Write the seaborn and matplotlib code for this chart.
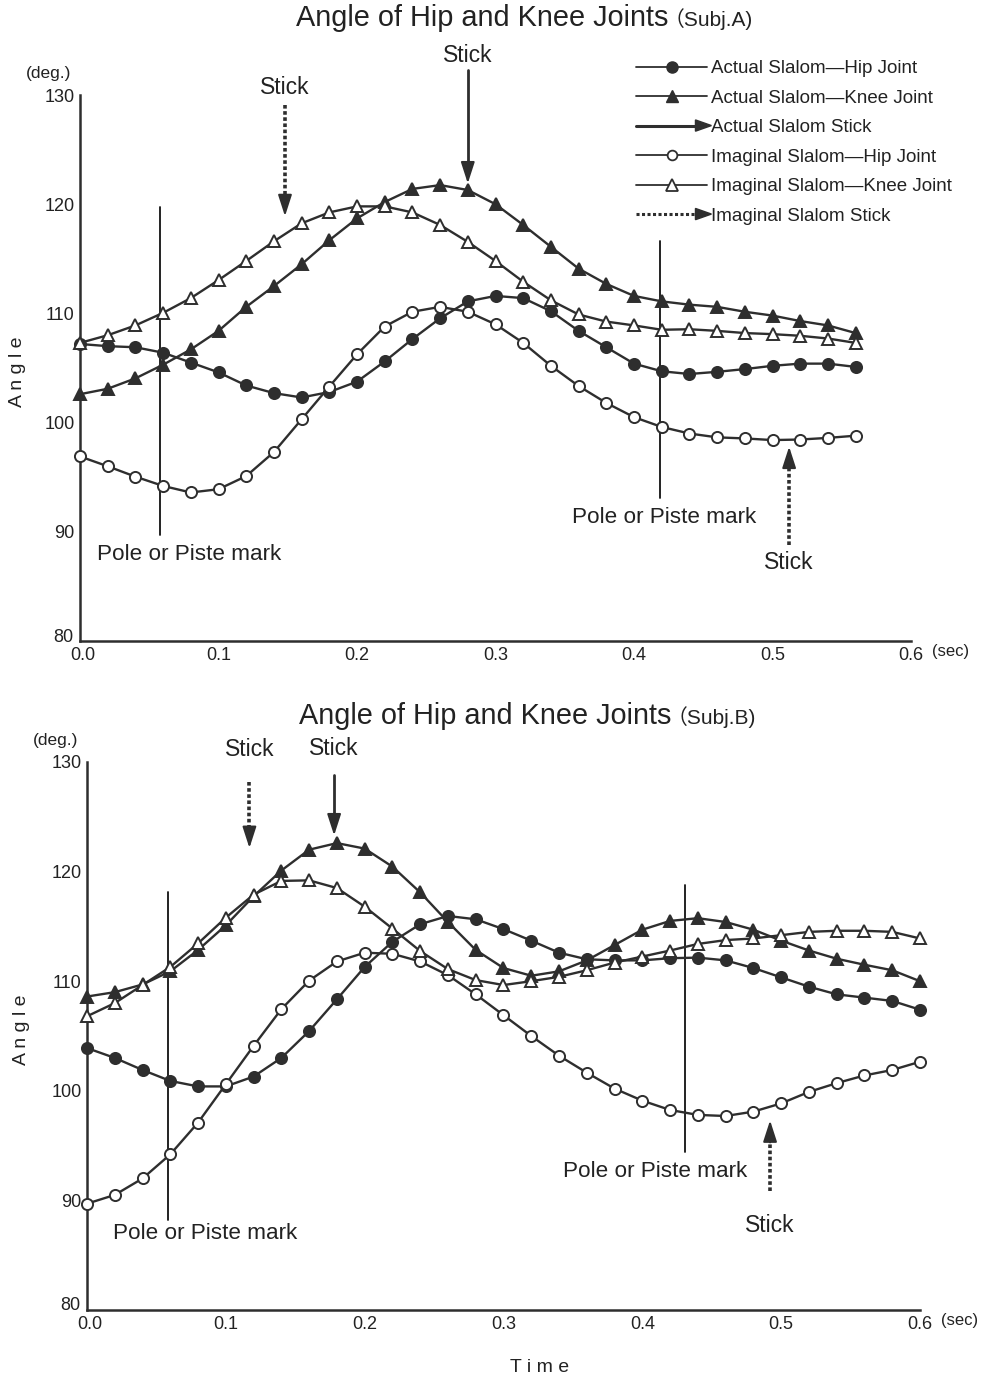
import numpy as np
import pandas as pd
import seaborn as sns
import matplotlib
matplotlib.use("Agg")
import matplotlib.pyplot as plt
import matplotlib.transforms as mtransforms
from matplotlib.lines import Line2D
from matplotlib.patches import Polygon
from matplotlib.legend_handler import HandlerBase

# ---------------- data ----------------
time_a = [round(0.02 * i, 2) for i in range(29)]   # 0.00 .. 0.56
time_b = [round(0.02 * i, 2) for i in range(31)]   # 0.00 .. 0.60

a_actual_hip = [107.2, 107.0, 106.9, 106.4, 105.5, 104.6, 103.4, 102.7, 102.3, 102.8,
                103.75, 105.6, 107.65, 109.55, 111.1, 111.6, 111.4, 110.2, 108.4, 106.9,
                105.4, 104.7, 104.45, 104.65, 104.9, 105.2, 105.4, 105.4, 105.1]
a_actual_knee = [102.6, 103.1, 104.05, 105.3, 106.7, 108.4, 110.6, 112.5, 114.5, 116.7,
                 118.7, 120.2, 121.4, 121.75, 121.3, 120.0, 118.1, 116.1, 114.1, 112.7,
                 111.6, 111.1, 110.8, 110.6, 110.15, 109.8, 109.3, 108.9, 108.2]
a_imag_hip = [96.9, 96.0, 95.05, 94.2, 93.6, 93.9, 95.1, 97.3, 100.3, 103.3,
              106.25, 108.8, 110.15, 110.6, 110.15, 109.0, 107.3, 105.2, 103.35, 101.8,
              100.5, 99.6, 99.0, 98.65, 98.55, 98.4, 98.45, 98.6, 98.8]
a_imag_knee = [107.3, 108.0, 108.9, 110.05, 111.4, 113.05, 114.8, 116.6, 118.25, 119.25,
               119.8, 119.8, 119.25, 118.1, 116.55, 114.8, 112.9, 111.2, 109.9, 109.25,
               108.9, 108.5, 108.55, 108.4, 108.2, 108.1, 107.95, 107.7, 107.3]

b_actual_hip = [103.9, 103.0, 101.9, 100.9, 100.4, 100.4, 101.3, 103.0, 105.45, 108.35,
                111.3, 113.6, 115.2, 115.95, 115.65, 114.75, 113.7, 112.6, 112.0, 111.9,
                111.9, 112.1, 112.15, 111.9, 111.2, 110.35, 109.5, 108.8, 108.5, 108.2, 107.4]
b_actual_knee = [108.6, 109.0, 109.7, 110.9, 112.85, 115.1, 117.75, 120.1, 122.0, 122.6,
                 122.1, 120.45, 118.1, 115.4, 112.85, 111.2, 110.5, 110.9, 111.9, 113.3,
                 114.7, 115.5, 115.75, 115.4, 114.7, 113.7, 112.8, 112.05, 111.5, 111.0, 110.0]
b_imag_hip = [89.7, 90.5, 92.0, 94.2, 97.1, 100.6, 104.1, 107.45, 110.05, 111.8,
              112.6, 112.5, 111.8, 110.55, 108.8, 106.9, 105.0, 103.2, 101.65, 100.2,
              99.1, 98.25, 97.8, 97.7, 98.1, 98.85, 99.9, 100.7, 101.4, 101.9, 102.65]
b_imag_knee = [106.8, 108.0, 109.65, 111.3, 113.45, 115.8, 117.9, 119.15, 119.2, 118.5,
               116.8, 114.8, 112.75, 111.1, 110.1, 109.65, 110.0, 110.4, 111.0, 111.7,
               112.25, 112.8, 113.4, 113.75, 113.9, 114.2, 114.5, 114.6, 114.6, 114.5, 113.9]

series_labels = ["Actual Slalom\u2014Hip Joint", "Actual Slalom\u2014Knee Joint",
                 "Actual Slalom Stick", "Imaginal Slalom\u2014Hip Joint",
                 "Imaginal Slalom\u2014Knee Joint", "Imaginal Slalom Stick"]

x_ticks = [0.0, 0.1, 0.2, 0.3, 0.4, 0.5, 0.6]
y_ticks = [80, 90, 100, 110, 120, 130]

# pole / piste marks: (time, top value, bottom value)
a_poles = [(0.058, 119.7, 89.7), (0.419, 116.6, 93.1)]
b_poles = [(0.058, 118.1, 88.2), (0.431, 118.8, 94.4)]
# pole labels: (time, value, ha)
a_pole_labels = [(0.012, 87.9, "left"), (0.422, 91.3, "center")]
b_pole_labels = [(0.019, 87.0, "left"), (0.409, 92.6, "center")]

# stick arrows: (time, tail value, tip value, kind, label value)
a_sticks = [(0.28, 132.3, 121.9, "actual", 133.6),
            (0.148, 129.1, 118.9, "imaginal", 130.7),
            (0.512, 88.8, 97.8, "imaginal", 87.2)]
b_sticks = [(0.178, 128.8, 123.3, "actual", 131.2),
            (0.117, 128.2, 122.15, "imaginal", 131.1),
            (0.492, 90.9, 97.3, "imaginal", 87.75)]

# ---------------- style ----------------
sns.set_style("white")
plt.rcParams["font.family"] = ["Liberation Sans", "DejaVu Sans"]
INK = "#2e2e2e"

fig = plt.figure(figsize=(9.85, 13.8), dpi=100)
ax_a = fig.add_axes([80 / 985, 1 - 641 / 1380, 831 / 985, 546 / 1380])
ax_b = fig.add_axes([87 / 985, 1 - 1310 / 1380, 833 / 985, 548 / 1380])


def draw_series(ax, t, vals, marker, filled):
    sns.lineplot(x=t, y=vals, ax=ax, color=INK, linewidth=1.7, marker=marker,
                 markersize=8.5 if marker == "^" else 8,
                 markerfacecolor=INK if filled else "white",
                 markeredgecolor=INK, markeredgewidth=1.4, legend=False,
                 clip_on=False, zorder=3)


def style_axes(ax):
    ax.set_xlim(0, 0.6)
    ax.set_ylim(80, 130)
    ax.set_xticks(x_ticks)
    ax.set_xticklabels([f"{v:.1f}" for v in x_ticks])
    ax.set_yticks(y_ticks)
    ax.set_yticklabels([str(v) for v in y_ticks])
    for s in ["top", "right"]:
        ax.spines[s].set_visible(False)
    for s in ["left", "bottom"]:
        ax.spines[s].set_linewidth(1.8)
        ax.spines[s].set_color(INK)
    ax.tick_params(axis="both", direction="in", length=6, width=1.4, color=INK,
                   labelsize=13, labelcolor="#222222", pad=4)
    # the lowest y label ("80") sits a little up-left of the corner, as in the original
    lab80 = ax.get_yticklabels()[0]
    lab80.set_transform(lab80.get_transform() +
                        mtransforms.ScaledTranslation(-1 / 100, 6 / 100, fig.dpi_scale_trans))
    lab00 = ax.get_xticklabels()[0]
    lab00.set_transform(lab00.get_transform() +
                        mtransforms.ScaledTranslation(3 / 100, 0, fig.dpi_scale_trans))
    ax.set_xlabel("")
    ax.set_ylabel("")
    ax.text(-0.01, 1.025, "(deg.)", transform=ax.transAxes, ha="right", va="bottom",
            fontsize=12.5, color="#222222")
    ax.text(1.025, -0.005, "(sec)", transform=ax.transAxes, ha="left", va="top",
            fontsize=12, color="#222222")


def draw_annotations(ax, poles, pole_labels, sticks):
    for t, top, bot in poles:
        ax.plot([t, t], [bot, top], color="#111111", lw=1.3, zorder=2)
    for t, v, ha in pole_labels:
        ax.text(t, v, "Pole or Piste mark", ha=ha, va="center", fontsize=16.2,
                color="#222222")
    for t, tail, tip, kind, lab in sticks:
        direction = np.sign(tip - tail)
        head_len = 2.0
        ls = "-" if kind == "actual" else (0, (1, 0.7))
        lw = 2.0 if kind == "actual" else 2.6
        ax.plot([t, t], [tail, tip - direction * head_len], color=INK, lw=lw,
                linestyle=ls, clip_on=False, zorder=4)
        ax.annotate("", xy=(t, tip), xytext=(t, tip - direction * head_len),
                    arrowprops=dict(arrowstyle="-|>,head_length=1.3,head_width=0.42",
                                    color=INK, lw=1.5, shrinkA=0, shrinkB=0),
                    annotation_clip=False, zorder=5)
        ax.text(t, lab, "Stick", ha="center", va="center", fontsize=16.5,
                color="#222222", clip_on=False)


# ---------------- top panel ----------------
draw_series(ax_a, time_a, a_actual_hip, "o", True)
draw_series(ax_a, time_a, a_actual_knee, "^", True)
draw_series(ax_a, time_a, a_imag_hip, "o", False)
draw_series(ax_a, time_a, a_imag_knee, "^", False)
style_axes(ax_a)
draw_annotations(ax_a, a_poles, a_pole_labels, a_sticks)

# ---------------- bottom panel ----------------
draw_series(ax_b, time_b, b_actual_hip, "o", True)
draw_series(ax_b, time_b, b_actual_knee, "^", True)
draw_series(ax_b, time_b, b_imag_hip, "o", False)
draw_series(ax_b, time_b, b_imag_knee, "^", False)
style_axes(ax_b)
draw_annotations(ax_b, b_poles, b_pole_labels, b_sticks)

# ---------------- titles & axis labels ----------------
fig.text(668 / 985, 1 - 18 / 1380, "Angle of Hip and Knee Joints", ha="right",
         va="center", fontsize=20.8, color="#222222")
fig.text(664 / 985, 1 - 19 / 1380, "\uff08Subj.A)", ha="left", va="center",
         fontsize=15, color="#222222", family=["Liberation Sans", "Noto Sans CJK JP"])
fig.text(671 / 985, 1 - 716 / 1380, "Angle of Hip and Knee Joints", ha="right",
         va="center", fontsize=20.8, color="#222222")
fig.text(667 / 985, 1 - 717 / 1380, "\uff08Subj.B)", ha="left", va="center",
         fontsize=15, color="#222222", family=["Liberation Sans", "Noto Sans CJK JP"])

fig.text(18 / 985, 1 - 372 / 1380, "A n g l e", rotation=90, ha="center",
         va="center", fontsize=14, color="#222222")
fig.text(22 / 985, 1 - 1030 / 1380, "A n g l e", rotation=90, ha="center",
         va="center", fontsize=14, color="#222222")
fig.text(540 / 985, 1 - 1367 / 1380, "T i m e", ha="center", va="center",
         fontsize=14, color="#222222")


# ---------------- legend ----------------
class ArrowHandler(HandlerBase):
    def __init__(self, linestyle, lw):
        super().__init__()
        self.linestyle = linestyle
        self.lw = lw

    def create_artists(self, legend, orig_handle, xdescent, ydescent, width,
                       height, fontsize, trans):
        y = height / 2 - ydescent
        x0, x1 = -xdescent, width - xdescent + 3
        hl, hw = 0.85 * fontsize, 0.3 * fontsize
        line = Line2D([x0, x1 - hl], [y, y], color=INK, lw=self.lw,
                      linestyle=self.linestyle)
        head = Polygon([[x1 - hl, y - hw], [x1, y], [x1 - hl, y + hw]],
                       closed=True, facecolor=INK, edgecolor=INK)
        line.set_transform(trans)
        head.set_transform(trans)
        return [line, head]


h_ahip = Line2D([], [], color=INK, lw=1.3, marker="o", markersize=8,
                markerfacecolor=INK, markeredgecolor=INK)
h_aknee = Line2D([], [], color=INK, lw=1.3, marker="^", markersize=8,
                 markerfacecolor=INK, markeredgecolor=INK)
h_astick = Line2D([], [], color=INK)
h_ihip = Line2D([], [], color=INK, lw=1.3, marker="o", markersize=7,
                markerfacecolor="white", markeredgecolor=INK, markeredgewidth=1.3)
h_iknee = Line2D([], [], color=INK, lw=1.3, marker="^", markersize=8,
                 markerfacecolor="white", markeredgecolor=INK, markeredgewidth=1.3)
h_istick = Line2D([], [], color=INK, ls=":")

leg = fig.legend([h_ahip, h_aknee, h_astick, h_ihip, h_iknee, h_istick], series_labels,
                 handler_map={h_astick: ArrowHandler("-", 2.2),
                              h_istick: ArrowHandler((0, (1, 0.8)), 2.2)},
                 loc="upper left", bbox_to_anchor=(636 / 985, 1 - 60 / 1380),
                 frameon=False, fontsize=13.5, handlelength=3.8, handletextpad=0.2,
                 labelspacing=0.66, borderaxespad=0, borderpad=0, markerscale=1.0)
for txt in leg.get_texts():
    txt.set_color("#222222")

fig.savefig("out.png", dpi=100, facecolor="white")
